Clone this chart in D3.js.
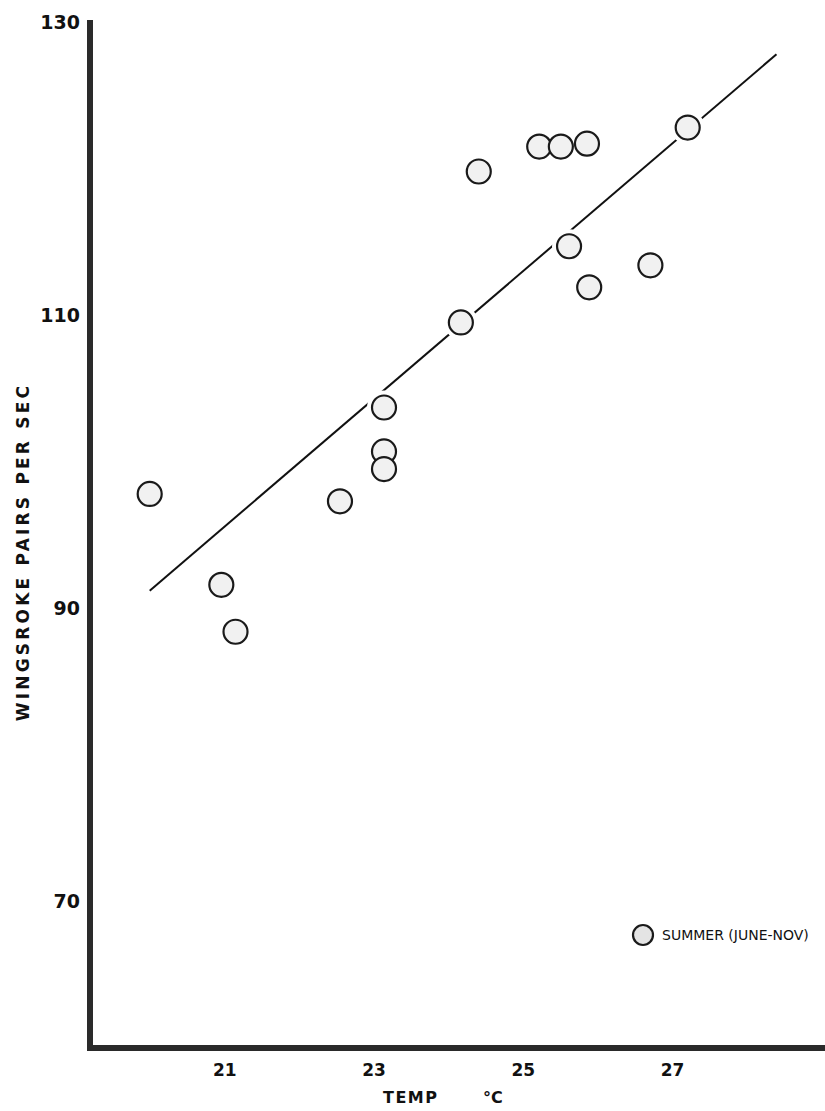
<!DOCTYPE html>
<html>
<head>
<meta charset="utf-8">
<script src="https://cdn.jsdelivr.net/npm/d3@7"></script>
<style>
  body { margin: 0; background: #fff; }
  svg { display: block; }
</style>
</head>
<body>
<div id="chart"></div>
<script>
// temperature (deg C) and wingstroke pairs per sec
var temps  = [20.0, 20.96, 21.15, 22.55, 23.14, 23.14, 23.14, 24.17, 24.41, 25.22, 25.51, 25.86, 25.62, 25.89, 26.71, 27.21]
var rates  = [97.8, 91.6, 88.4, 97.3, 103.7, 100.7, 99.5, 109.5, 119.8, 121.5, 121.5, 121.7, 114.7, 111.9, 113.4, 122.8]

// fitted line end points
var fitTemps = [20.0, 28.4]
var fitRates = [91.2, 127.8]

var xTicks = [21, 23, 25, 27]
var yTicks = [130, 110, 90, 70]
var legendLabel = "SUMMER (JUNE-NOV)"

var width = 825, height = 1111

var svg = d3.select("#chart").append("svg")
    .attr("width", width).attr("height", height)

var x = d3.scaleLinear().domain([19.2, 29.05]).range([90, 825])
var y = d3.scaleLinear().domain([60, 130]).range([1048, 22])

var inkFont = "'DejaVu Sans', sans-serif"

// axes
var yAxis = svg.append("g")
    .attr("transform", "translate(90,0)")
    .call(d3.axisLeft(y).tickValues(yTicks).tickSize(0).tickPadding(10).tickFormat(d3.format("d")))
yAxis.select(".domain").attr("stroke", "#2a2a2a").attr("stroke-width", 6)
    .attr("d", "M0," + (y(130) - 2) + "V" + (y(60) + 2))
yAxis.selectAll("text")
    .attr("font-family", inkFont).attr("font-size", 19).attr("font-weight", "bold")
    .attr("fill", "#111")

var xAxis = svg.append("g")
    .attr("transform", "translate(0,1048)")
    .call(d3.axisBottom(x).tickValues(xTicks).tickSize(0).tickPadding(16).tickFormat(d3.format("d")))
xAxis.select(".domain").attr("stroke", "#2a2a2a").attr("stroke-width", 6)
    .attr("d", "M87,0H825")
xAxis.selectAll("text")
    .attr("font-family", inkFont).attr("font-size", 17).attr("font-weight", "bold")
    .attr("fill", "#111")

// axis titles
svg.append("text")
    .attr("transform", "translate(29,552) rotate(-90)")
    .attr("text-anchor", "middle")
    .attr("font-family", inkFont).attr("font-size", 17).attr("font-weight", "bold")
    .attr("letter-spacing", 3.2).attr("fill", "#111")
    .text("WINGSROKE PAIRS PER SEC")

svg.append("text")
    .attr("x", 383).attr("y", 1103)
    .attr("font-family", inkFont).attr("font-size", 16).attr("font-weight", "bold")
    .attr("letter-spacing", 1.5).attr("fill", "#111")
    .text("TEMP")
svg.append("text")
    .attr("x", 483).attr("y", 1103)
    .attr("font-family", inkFont).attr("font-size", 16).attr("font-weight", "bold")
    .attr("fill", "#111")
    .text("\u00B0C")

// regression line
svg.append("line")
    .attr("x1", x(fitTemps[0])).attr("y1", y(fitRates[0]))
    .attr("x2", x(fitTemps[1])).attr("y2", y(fitRates[1]))
    .attr("stroke", "#111").attr("stroke-width", 2)

var pts = d3.range(temps.length)

// white halo so the line breaks around each point
svg.append("g").selectAll("circle").data(pts).join("circle")
    .attr("cx", i => x(temps[i])).attr("cy", i => y(rates[i]))
    .attr("r", 17).attr("fill", "#fff")

svg.append("g").selectAll("circle").data(pts).join("circle")
    .attr("cx", i => x(temps[i])).attr("cy", i => y(rates[i]))
    .attr("r", 12).attr("fill", "#f1f1f1")
    .attr("stroke", "#1a1a1a").attr("stroke-width", 2.2)

// legend
var legend = svg.append("g").attr("transform", "translate(643,935)")
legend.append("circle").attr("r", 10).attr("fill", "#e4e4e4")
    .attr("stroke", "#1a1a1a").attr("stroke-width", 2.2)
legend.append("text")
    .attr("x", 19).attr("y", 5)
    .attr("font-family", inkFont).attr("font-size", 14)
    .attr("fill", "#111")
    .text(legendLabel)
</script>
</body>
</html>
